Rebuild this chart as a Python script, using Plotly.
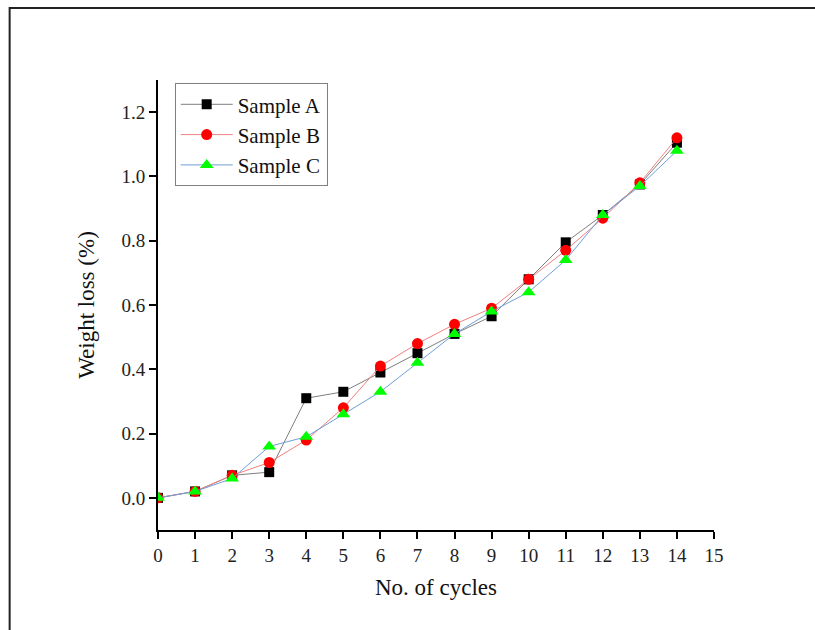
import plotly.graph_objects as go

cycles = list(range(15))
sample_a = [0.0, 0.02, 0.07, 0.08, 0.31, 0.33, 0.39, 0.45, 0.51, 0.565, 0.68, 0.795, 0.88, 0.975, 1.105]
sample_b = [0.0, 0.02, 0.07, 0.11, 0.18, 0.28, 0.41, 0.48, 0.54, 0.59, 0.68, 0.77, 0.87, 0.98, 1.12]
sample_c = [0.0, 0.02, 0.06, 0.16, 0.19, 0.26, 0.33, 0.42, 0.51, 0.58, 0.64, 0.74, 0.88, 0.97, 1.08]

x_ticks = list(range(16))
y_ticks = [0.0, 0.2, 0.4, 0.6, 0.8, 1.0, 1.2]

FONT = "Liberation Serif"

fig = go.Figure()
fig.add_trace(go.Scatter(
    x=cycles, y=sample_a, name="Sample A", mode="lines+markers",
    line=dict(color="#7f7f7f", width=1),
    marker=dict(symbol="square", size=10, color="black"),
))
fig.add_trace(go.Scatter(
    x=cycles, y=sample_b, name="Sample B", mode="lines+markers",
    line=dict(color="#f08080", width=1),
    marker=dict(symbol="circle", size=11, color="red"),
))
fig.add_trace(go.Scatter(
    x=cycles, y=sample_c, name="Sample C", mode="lines+markers",
    line=dict(color="#6f9fd8", width=1),
    marker=dict(symbol="triangle-up", size=12, color="#00ff00"),
))

axis_common = dict(
    showline=True, linecolor="black", linewidth=2,
    ticks="outside", ticklen=7, tickwidth=2, tickcolor="black",
    showgrid=False, zeroline=False,
    tickfont=dict(family=FONT, size=19, color="#222"),
    title_font=dict(family=FONT, size=23, color="#111"),
)

fig.update_layout(
    width=815, height=630,
    margin=dict(l=157.5, r=101, t=80, b=100),
    paper_bgcolor="white", plot_bgcolor="white",
    xaxis=dict(range=[0, 15], tickvals=x_ticks, title_text="No. of cycles",
               title_standoff=14, **axis_common),
    yaxis=dict(range=[-0.1, 1.3], tickvals=y_ticks, tickformat=".1f",
               title_text="Weight loss (%)", title_standoff=20, **axis_common),
    legend=dict(
        x=0.03, y=0.993, xanchor="left", yanchor="top",
        bordercolor="#808080", borderwidth=1, bgcolor="white",
        font=dict(family=FONT, size=21, color="#111"),
        itemwidth=52, tracegroupgap=0,
    ),
    shapes=[dict(
        type="rect", xref="paper", yref="paper",
        x0=(9 - 157.5) / 556.5, x1=(830 - 157.5) / 556.5,
        y0=(530 - 650) / 450, y1=(530 - 8) / 450,
        line=dict(color="#222", width=2), fillcolor="rgba(0,0,0,0)", layer="below",
    )],
)

fig.write_html("out.html")
